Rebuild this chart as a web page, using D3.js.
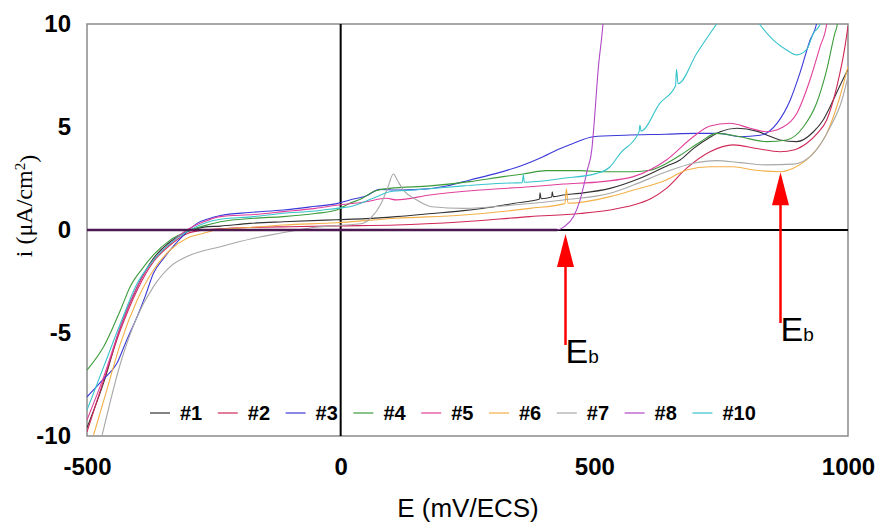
<!DOCTYPE html>
<html>
<head>
<meta charset="utf-8">
<script src="https://cdn.jsdelivr.net/npm/d3@7"></script>
<style>
  body { margin: 0; background: #fff; }
  svg { display: block; }
  .tick text { font-family: "Liberation Sans", Arial, sans-serif; font-weight: bold; font-size: 24px; fill: #000; }
</style>
</head>
<body>
<svg id="chart" width="880" height="523"></svg>
<script>
// polarisation curves, E in mV/ECS, i in uA/cm2
var s1 = [[-500,-9.6],[-467,-7.4],[-434,-4.7],[-401,-2.75],[-369,-1.38],[-336,-0.57],[-303,-0.08],[-270,0.14],[-237,0.19],
  [-179,0.32],[-113,0.4],[-8,0.5],[50,0.55],[110,0.65],[180,0.8],[242,0.94],[300,1.12],[340,1.29],[392,1.5],[393,1.8],[395,1.52],
  [416,1.6],[417,1.85],[419,1.62],[439,1.7],[471,1.78],[531,2.02],[590,2.51],[642,3.1],[669,3.4],[695,3.95],[728,4.5],[748,4.77],
  [781,4.94],[820,4.8],[846,4.55],[866,4.37],[899,4.29],[932,4.77],[950,5.3],[965,6.0],[984,7.0],[1000,7.8]];
var s2 = [[-500,-9.8],[-467,-7.28],[-434,-4.85],[-401,-2.91],[-369,-1.54],[-336,-0.73],[-303,-0.18],[-270,0],[-237,0.06],
  [-180,0.12],[-100,0.16],[-8,0.2],[110,0.24],[242,0.4],[373,0.65],[472,0.8],[531,0.97],[577,1.21],[610,1.5],[642,2.02],
  [682,3.0],[728,3.8],[774,4.13],[820,3.96],[866,3.8],[895,3.9],[918,4.2],[940,4.7],[958,5.34],[978,6.96],[994,8.9],[1000,9.9]];
var s3 = [[-500,-8.1],[-470,-7.3],[-441,-6.47],[-421,-5.3],[-401,-4.2],[-385,-3.2],[-369,-2.1],[-349,-1.38],[-330,-0.8],
  [-309,-0.24],[-283,0.32],[-260,0.55],[-237,0.7],[-180,0.85],[-113,0.97],[-50,1.15],[-8,1.28],[18,1.46],[50,1.65],[77,1.97],
  [110,1.94],[156,1.97],[209,2.14],[255,2.43],[307,2.75],[360,3.16],[399,3.56],[426,3.88],[458,4.2],[498,4.53],[560,4.6],
  [640,4.65],[700,4.69],[747,4.69],[787,4.53],[827,4.6],[860,5.18],[886,6.3],[905,7.6],[925,9.2],[938,10],[945,11]];
var s4 = [[-500,-6.8],[-467,-5.66],[-434,-3.88],[-415,-2.75],[-388,-1.78],[-369,-1.21],[-336,-0.49],[-303,-0.08],[-270,0.2],
  [-237,0.4],[-171,0.57],[-113,0.65],[-50,0.8],[-8,0.97],[18,1.3],[40,1.5],[64,1.86],[97,2.02],[176,2.14],[255,2.35],
  [320,2.59],[360,2.72],[406,2.88],[472,2.88],[524,2.83],[577,2.83],[610,2.9],[640,3.2],[675,3.72],[710,4.3],[741,4.69],
  [787,4.53],[839,4.29],[879,4.37],[912,5.0],[938,6.15],[958,7.77],[974,9.55],[979,10],[983,11]];
var s5 = [[-500,-9.22],[-467,-7.12],[-434,-4.69],[-401,-2.75],[-369,-1.46],[-336,-0.65],[-303,0],[-270,0.4],[-237,0.65],
  [-171,0.75],[-113,0.89],[-50,1.05],[-8,1.2],[50,1.37],[90,1.54],[110,1.46],[176,1.7],[275,1.94],[373,2.1],[439,2.23],
  [515,2.35],[577,2.59],[642,3.4],[695,4.53],[728,5.05],[767,5.18],[807,4.94],[839,4.77],[872,5.0],[899,5.66],[925,7.28],
  [945,8.9],[958,10],[963,11]];
var s6 = [[-487,-9.95],[-461,-7.77],[-434,-5.5],[-401,-3.4],[-369,-1.94],[-336,-0.97],[-303,-0.4],[-270,-0.16],[-245,0],
  [-180,0.12],[-113,0.24],[-8,0.35],[110,0.57],[242,0.73],[373,1.05],[442,1.28],[445,2.0],[448,1.3],[531,1.62],[577,1.94],
  [642,2.43],[682,2.91],[728,3.07],[774,3.07],[814,2.91],[866,2.83],[892,3.0],[925,3.56],[958,4.69],[984,6.47],[1000,7.93]];
var s7 = [[-470,-9.95],[-434,-6.47],[-401,-4.2],[-369,-2.75],[-336,-1.78],[-303,-1.29],[-237,-0.81],[-171,-0.4],[-106,-0.1],
  [-60,0.1],[-8,0.22],[40,0.3],[60,0.6],[80,1.3],[92,2.0],[104,2.72],[112,2.4],[125,1.9],[150,1.46],[180,1.13],[242,1.05],
  [340,1.21],[439,1.46],[531,1.78],[577,2.18],[642,2.83],[695,3.24],[741,3.37],[787,3.27],[839,3.16],[892,3.2],[932,3.72],
  [965,5.0],[988,6.3],[1000,7.44]];
var s8 = [[-500,0],[427,0],[440,0.15],[459,0.65],[472,1.46],[486,2.9],[495,3.9],[498,4.7],[508,7.9],[517,10],[520,11]];
var s10 = [[-500,-8.74],[-467,-6.63],[-434,-4.53],[-401,-2.59],[-369,-1.46],[-336,-0.65],[-303,-0.08],[-270,0.32],[-237,0.52],
  [-171,0.65],[-113,0.81],[-50,0.92],[-8,1.05],[18,1.13],[64,1.54],[97,1.86],[143,1.94],[242,2.14],[320,2.27],[358,2.3],
  [360,2.68],[362,2.32],[439,2.51],[505,2.75],[531,3.07],[551,3.72],[588,4.75],[590,5.1],[592,4.8],[629,6.15],[660,7.0],
  [662,7.8],[665,7.1],[702,8.58],[741,10],[770,11],[800,11],[827,9.95],[853,9.22],[879,8.74],[899,8.5],[918,8.74],
  [932,9.55],[945,10],[955,11]];

var seriesNames = ["#1", "#2", "#3", "#4", "#5", "#6", "#7", "#8", "#10"];
var seriesData = [s1, s2, s3, s4, s5, s6, s7, s8, s10];
var seriesColors = ["#333333", "#d02858", "#3a3ad8", "#3c9c3c", "#e0409c", "#f4b048", "#a8a8a8", "#b048c8", "#38c4cc"];

var xTicks = [-500, 0, 500, 1000];
var yTicks = [-10, -5, 0, 5, 10];
var breakdown = [[443, 0], [866, 3.0]];   // E_b arrows: potential, current at tip

var svg = d3.select("#chart");
var x = d3.scaleLinear().domain([-500, 1000]).range([87, 848]);
var y = d3.scaleLinear().domain([-10, 10]).range([436, 24]);
var plainNum = function (d) { return String(d); };

svg.append("defs").append("clipPath").attr("id", "plotClip")
    .append("rect").attr("x", 87).attr("y", 24).attr("width", 761).attr("height", 412);

// frame
svg.append("rect").attr("x", 87).attr("y", 24).attr("width", 761).attr("height", 412)
    .attr("fill", "none").attr("stroke", "#8a8a8a").attr("stroke-width", 1.5);

// zero axes
svg.append("line").attr("x1", x(0)).attr("x2", x(0)).attr("y1", 24).attr("y2", 436)
    .attr("stroke", "#000").attr("stroke-width", 2);
svg.append("line").attr("x1", 87).attr("x2", 848).attr("y1", y(0)).attr("y2", y(0))
    .attr("stroke", "#000").attr("stroke-width", 2);

// tick labels
var yAxis = svg.append("g").attr("transform", "translate(87,0)")
    .call(d3.axisLeft(y).tickValues(yTicks).tickFormat(plainNum).tickSize(0).tickPadding(16));
yAxis.select(".domain").remove();

var xAxis = svg.append("g").attr("transform", "translate(0,436)")
    .call(d3.axisBottom(x).tickValues(xTicks).tickFormat(plainNum).tickSize(0).tickPadding(22));
xAxis.select(".domain").remove();

// curves
var line = d3.line().x(function (d) { return x(d[0]); }).y(function (d) { return y(d[1]); })
    .curve(d3.curveMonotoneX);
var curves = svg.append("g").attr("clip-path", "url(#plotClip)");
seriesData.forEach(function (data, k) {
    curves.append("path").datum(data)
        .attr("d", line)
        .attr("fill", "none")
        .attr("stroke", seriesColors[k])
        .attr("stroke-width", 1.1);
});

// #8 passive part lies on the zero axis -> dark purple mix
var flat8 = s8.filter(function (d) { return d[1] === 0; });
curves.append("path").datum(flat8)
    .attr("d", d3.line().x(function (d) { return x(d[0]); }).y(function (d) { return y(d[1]); }))
    .attr("fill", "none").attr("stroke", "#4c1a50").attr("stroke-width", 2.6);

// legend
var legend = svg.append("g").attr("transform", "translate(150,413)");
seriesNames.forEach(function (name, k) {
    var g = legend.append("g").attr("transform", "translate(" + (k * 67.8) + ",0)");
    g.append("line").attr("x1", 0).attr("x2", 20).attr("y1", 0).attr("y2", 0)
        .attr("stroke", seriesColors[k]).attr("stroke-width", 1.2);
    g.append("text").attr("x", 30).attr("y", 0).attr("dy", "0.36em")
        .style("font-family", "'Liberation Sans', Arial, sans-serif")
        .style("font-weight", "bold").style("font-size", "20px")
        .text(name);
});

// E_b arrows
var shaftEnd = [345, 323];
breakdown.forEach(function (b, k) {
    var ax = Math.round(x(b[0])) + 0.5;
    var tip = y(b[1]) + 4;
    svg.append("line").attr("x1", ax).attr("x2", ax).attr("y1", tip + 30).attr("y2", shaftEnd[k])
        .attr("stroke", "#ff0000").attr("stroke-width", 2.5);
    svg.append("path")
        .attr("d", "M" + ax + "," + tip + "L" + (ax - 8.5) + "," + (tip + 33) + "L" + (ax + 8.5) + "," + (tip + 33) + "Z")
        .attr("fill", "#ff0000");
    var t = svg.append("text").attr("x", ax).attr("y", shaftEnd[k] + 18)
        .style("font-family", "'Liberation Sans', Arial, sans-serif").style("font-size", "34px");
    t.append("tspan").text("E");
    t.append("tspan").style("font-size", "19px").text("b");
});

// axis titles
svg.append("text").attr("x", 468).attr("y", 517).attr("text-anchor", "middle")
    .style("font-family", "'Liberation Sans', Arial, sans-serif").style("font-size", "26px")
    .text("E (mV/ECS)");

var yt = svg.append("text").attr("transform", "translate(32,206) rotate(-90)").attr("text-anchor", "middle")
    .style("font-family", "'Liberation Serif', 'Times New Roman', serif").style("font-size", "24px");
yt.append("tspan").text("i (\u03bcA/cm");
yt.append("tspan").attr("dy", "-0.45em").style("font-size", "15px").text("2");
yt.append("tspan").attr("dy", "0.45em").text(")");
</script>
</body>
</html>
